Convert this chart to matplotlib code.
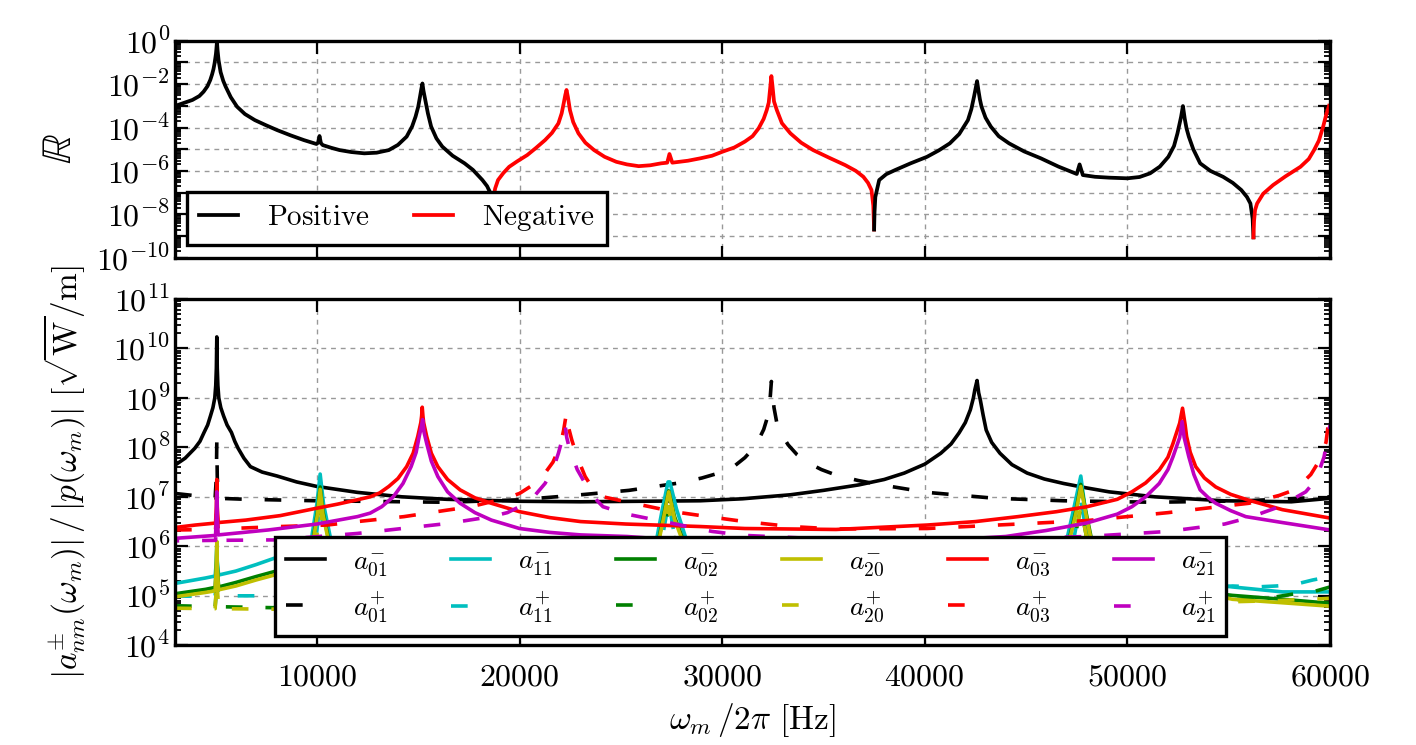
"""Reflection coefficient and modal amplitudes versus frequency."""

import matplotlib

matplotlib.use("Agg")
import matplotlib.pyplot as plt
from matplotlib.lines import Line2D
from matplotlib.ticker import FixedLocator, LogLocator, NullFormatter

# ---------------------------------------------------------------- top panel
# |R| in runs of constant sign (the runs meet at the zero crossings)
r1_f = [3000, 3400, 3860, 4200, 4410, 4600, 4740, 4830, 4900, 4950, 4990, 5020,
        5040, 5070, 5100, 5150, 5250, 5380, 5500, 5750, 6060, 6450, 6940, 7500,
        8040, 8700, 9360, 9980, 10060, 10130, 10200, 10290, 10700, 11120, 11700,
        12340, 12950, 13550, 14000, 14430, 14700, 14870, 15000, 15090, 15160,
        15210, 15260, 15350, 15480, 15640, 15900, 16190, 16700, 17290, 17700,
        18170, 18400, 18570, 18720]
r1 = [9.8e-4, 1.32e-3, 1.86e-3, 2.82e-3, 4.47e-3, 7.94e-3, 1.55e-2, 2.82e-2,
      5.01e-2, 8.91e-2, 0.158, 0.251, 0.398, 0.891, 0.355, 0.126, 3.55e-2,
      1.41e-2, 7.59e-3, 2.51e-3, 9.12e-4, 4.17e-4, 2.19e-4, 1.26e-4, 7.59e-5,
      4.37e-5, 2.63e-5, 1.74e-5, 2.0e-5, 4.07e-5, 1.91e-5, 1.55e-5, 1.17e-5,
      9.12e-6, 7.41e-6, 6.46e-6, 6.92e-6, 9.12e-6, 1.58e-5, 3.8e-5, 1.12e-4,
      3.16e-4, 8.91e-4, 2.63e-3, 6.31e-3, 1.07e-2, 5.01e-3, 1.86e-3, 4.47e-4,
      1.1e-4, 3.16e-5, 1.32e-5, 5.01e-6, 2.24e-6, 1.12e-6, 3.8e-7, 2.0e-7,
      9.33e-8, 5.01e-8]

r2_f = [18720, 18760, 18800, 18940, 19200, 19490, 19900, 20380, 20800, 21260,
        21600, 21920, 22080, 22180, 22260, 22320, 22390, 22490, 22650, 22910,
        23250, 23680, 24200, 24780, 25300, 25880, 26450, 26990, 27290, 27400,
        27540, 28310, 28920, 29500, 30000, 30600, 31120, 31500, 31800, 32050,
        32200, 32300, 32380, 32430, 32480, 32560, 32700, 32950, 33370, 33900,
        34490, 35300, 36070, 36600, 36970, 37200, 37370, 37460, 37500]
r2 = [5.01e-8, 1.0e-7, 1.58e-7, 3.8e-7, 7.94e-7, 1.55e-6, 2.82e-6, 5.37e-6,
      1.12e-5, 2.63e-5, 5.62e-5, 1.55e-4, 4.47e-4, 1.29e-3, 3.16e-3, 5.37e-3,
      2.51e-3, 6.31e-4, 1.78e-4, 5.37e-5, 2.0e-5, 9.12e-6, 4.47e-6, 2.63e-6,
      2.0e-6, 1.66e-6, 1.82e-6, 2.24e-6, 2.4e-6, 6.03e-6, 2.4e-6, 2.95e-6,
      3.8e-6, 5.01e-6, 7.59e-6, 1.2e-5, 2.24e-5, 3.98e-5, 9.12e-5, 2.51e-4,
      6.31e-4, 1.41e-3, 7.94e-3, 2.34e-2, 8.91e-3, 1.58e-3, 6.31e-4, 1.58e-4,
      5.37e-5, 2.0e-5, 9.12e-6, 3.98e-6, 1.86e-6, 1.0e-6, 5.37e-7, 2.82e-7,
      1.32e-7, 2.51e-8, 2.0e-9]

r3_f = [37500, 37520, 37560, 37750, 38100, 38540, 39300, 40110, 40700, 41235,
        41700, 42130, 42300, 42430, 42510, 42580, 42650, 42720, 42800, 43000,
        43260, 43650, 44160, 44900, 45730, 46600, 47500, 47640, 47800, 48400,
        49100, 50000, 50600, 51120, 51600, 52020, 52300, 52470, 52650, 52740,
        52830, 52920, 53030, 53250, 53590, 54100, 54720, 55200, 55620, 55900,
        56070, 56180, 56220]
r3 = [2.0e-9, 1.26e-8, 6.31e-8, 3.8e-7, 7.08e-7, 1.1e-6, 2.24e-6, 4.47e-6,
      8.91e-6, 1.86e-5, 5.01e-5, 2.19e-4, 7.08e-4, 2.63e-3, 6.31e-3, 1.38e-2,
      5.01e-3, 2.0e-3, 9.12e-4, 2.82e-4, 1.1e-4, 3.98e-5, 1.86e-5, 7.94e-6,
      3.8e-6, 1.58e-6, 7.24e-7, 2.0e-6, 6.46e-7, 5.37e-7, 4.9e-7, 4.57e-7,
      5.25e-7, 7.76e-7, 1.58e-6, 4.47e-6, 1.41e-5, 5.37e-5, 3.16e-4, 9.77e-4,
      2.51e-4, 8.91e-5, 3.8e-5, 1.0e-5, 2.24e-6, 1.0e-6, 5.37e-7, 2.82e-7,
      1.32e-7, 6.31e-8, 3.16e-8, 6.31e-9, 8.71e-10]

r4_f = [56220, 56250, 56300, 56400, 56700, 57190, 57800, 58540, 58950, 59210,
        59450, 59660, 59800, 59950]
r4 = [8.71e-10, 5.01e-9, 1.58e-8, 3.16e-8, 8.91e-8, 2.24e-7, 5.62e-7, 1.55e-6,
      3.55e-6, 9.12e-6, 2.51e-5, 1.1e-4, 3.55e-4, 1.0e-3]

r_runs = [("+", r1_f, r1), ("-", r2_f, r2), ("+", r3_f, r3), ("-", r4_f, r4)]

# ------------------------------------------------------------- bottom panel
a01m_f = [3000, 3500, 3975, 4230, 4434, 4610, 4747, 4870, 4963, 5010, 5040,
          5062, 5085, 5115, 5160, 5260, 5400, 5570, 5783, 5950, 6114, 6400,
          6720, 7300, 8040, 9000, 10000, 12000, 14200, 16410, 20000, 23020,
          28920, 31000, 33370, 35000, 36740, 38000, 38990, 40000, 40790, 41300,
          41690, 42000, 42250, 42400, 42470, 42580, 42660, 42740, 42880, 43030,
          43300, 43710, 44300, 45050, 45900, 46850, 48000, 49100, 51350, 54720,
          58090, 60000]
a01m = [4.37e7, 6.03e7, 9.55e7, 1.32e8, 2.0e8, 2.82e8, 4.27e8, 6.31e8, 1.0e9,
        1.78e9, 3.98e9, 1.7e10, 3.98e9, 1.78e9, 1.0e9, 6.31e8, 4.27e8, 2.82e8,
        2.0e8, 1.32e8, 9.55e7, 6.03e7, 4.07e7, 3.16e7, 2.63e7, 2.0e7, 1.62e7,
        1.23e7, 1.0e7, 8.91e6, 8.13e6, 7.94e6, 8.32e6, 9.12e6, 1.1e7, 1.35e7,
        1.74e7, 2.24e7, 3.02e7, 4.57e7, 7.59e7, 1.17e8, 1.95e8, 3.16e8, 5.75e8,
        1.0e9, 1.45e9, 2.24e9, 1.26e9, 9.12e8, 4.47e8, 2.24e8, 1.26e8, 7.59e7,
        4.47e7, 3.02e7, 2.29e7, 1.86e7, 1.51e7, 1.26e7, 1.0e7, 8.32e6, 7.94e6,
        9.33e6]

a01p_f = [3000, 4500, 4980, 5040, 5062, 5085, 5150, 6500, 10000, 16410, 20000,
          23020, 25400, 27900, 29000, 30000, 30600, 31120, 31500, 31800, 32050,
          32200, 32300, 32380, 32430, 32480, 32560, 32700, 32950, 33260, 33700,
          34270, 34900, 35620, 36700, 37860, 40110, 43480, 46850, 51350, 55840,
          60000]
a01p = [1.17e7, 1.0e7, 9.55e6, 2.51e7, 1.26e8, 2.51e7, 9.33e6, 8.91e6, 8.32e6,
        7.76e6, 8.71e6, 1.1e7, 1.35e7, 1.91e7, 2.4e7, 3.16e7, 4.17e7, 6.17e7,
        9.12e7, 1.41e8, 2.29e8, 3.63e8, 6.03e8, 1.12e9, 2.14e9, 1.26e9, 6.31e8,
        3.09e8, 1.78e8, 1.12e8, 7.08e7, 4.79e7, 3.55e7, 2.75e7, 2.14e7, 1.74e7,
        1.23e7, 9.33e6, 8.32e6, 7.76e6, 8.32e6, 1.0e7]

a03m_f = [3000, 4000, 5000, 5040, 5062, 5085, 5130, 6500, 8190, 10000, 11000,
          12000, 12630, 13100, 13550, 14000, 14430, 14750, 14980, 15130, 15170,
          15200, 15235, 15270, 15420, 15650, 15970, 16450, 17070, 17800, 18610,
          20000, 21500, 23020, 25250, 28920, 31120, 35620, 40110, 42500, 44600,
          46500, 48000, 49500, 50220, 50900, 51570, 52000, 52250, 52580, 52720,
          52850, 52920, 53100, 53370, 53800, 54360, 55100, 56000, 57650, 60000]
a03m = [2.4e6, 2.69e6, 2.95e6, 6.31e6, 2.24e7, 6.31e6, 3.02e6, 3.39e6, 4.17e6,
        5.89e6, 7.08e6, 8.71e6, 1.0e7, 1.2e7, 1.62e7, 2.34e7, 4.07e7, 7.59e7,
        1.66e8, 3.16e8, 4.27e8, 6.46e8, 4.27e8, 3.16e8, 1.66e8, 7.59e7, 4.07e7,
        2.24e7, 1.38e7, 9.55e6, 7.41e6, 5.01e6, 3.8e6, 3.16e6, 2.82e6, 2.51e6,
        2.29e6, 2.19e6, 2.69e6, 3.16e6, 3.98e6, 5.01e6, 6.31e6, 8.91e6, 1.26e7,
        1.91e7, 3.47e7, 6.31e7, 1.2e8, 3.09e8, 6.17e8, 2.82e8, 1.66e8, 7.94e7,
        4.07e7, 2.4e7, 1.58e7, 1.12e7, 8.51e6, 5.5e6, 3.72e6]

a21m_f = [3000, 5000, 5040, 5062, 5085, 5130, 7600, 10000, 12000, 12630, 13200,
          13770, 14250, 14650, 14900, 15050, 15160, 15220, 15290, 15420, 15650,
          15970, 16450, 17070, 17800, 18610, 20000, 21500, 23020, 25300, 28000,
          32000, 36000, 40000, 44000, 46000, 47980, 49500, 50220, 50900, 51570,
          52000, 52250, 52580, 52700, 52800, 53030, 53280, 53590, 54000, 54360,
          55100, 55840, 57650, 60000]
a21m = [1.45e6, 1.66e6, 3.98e6, 1.26e7, 3.98e6, 1.7e6, 2.14e6, 2.82e6, 3.98e6,
        4.68e6, 6.31e6, 1.0e7, 1.86e7, 4.07e7, 7.94e7, 1.66e8, 2.63e8, 3.63e8,
        2.0e8, 1.2e8, 5.25e7, 2.57e7, 1.26e7, 7.41e6, 4.79e6, 3.39e6, 2.29e6,
        1.91e6, 1.7e6, 1.58e6, 1.32e6, 1.2e6, 1.17e6, 1.26e6, 1.58e6, 2.09e6,
        2.95e6, 4.47e6, 6.31e6, 1.0e7, 1.86e7, 3.55e7, 6.46e7, 1.58e8, 3.31e8,
        1.58e8, 6.46e7, 2.82e7, 1.38e7, 9.55e6, 7.41e6, 5.25e6, 3.98e6, 3.02e6,
        2.14e6]

a03p_f = [3000, 5000, 5040, 5062, 5085, 5130, 8190, 10500, 12000, 14300, 16410,
          17600, 18610, 19400, 20000, 20700, 21260, 21650, 21920, 22100, 22180,
          22260, 22320, 22380, 22420, 22580, 22850, 23240, 23650, 24120, 25500,
          27600, 29300, 31120, 33370, 35620, 40110, 44600, 48000, 52000, 54500,
          56000, 57500, 58300, 59050, 59500, 59800, 60000]
a03p = [2.14e6, 2.19e6, 3.98e6, 7.94e6, 3.98e6, 2.24e6, 2.51e6, 2.69e6, 3.16e6,
        3.98e6, 5.37e6, 6.31e6, 7.94e6, 9.55e6, 1.17e7, 1.78e7, 3.02e7, 5.01e7,
        8.91e7, 1.58e8, 2.24e8, 3.55e8, 5.01e8, 3.55e8, 2.51e8, 1.41e8, 6.31e7,
        2.57e7, 1.41e7, 1.0e7, 7.59e6, 5.01e6, 3.98e6, 3.16e6, 2.51e6, 2.24e6,
        2.29e6, 2.82e6, 3.31e6, 4.79e6, 6.31e6, 7.41e6, 1.07e7, 1.41e7, 2.82e7,
        5.62e7, 1.26e8, 5.62e8]

a21p_f = [3000, 5000, 5040, 5062, 5085, 5130, 8000, 12000, 16410, 18610, 19400,
          20000, 20700, 21260, 21650, 21920, 22100, 22250, 22330, 22450, 22580,
          22850, 23240, 23650, 24120, 25300, 27700, 29500, 31120, 35000, 40000,
          44000, 48000, 52000, 54800, 56000, 57500, 58800, 59300, 59700, 60000]
a21p = [1.29e6, 1.32e6, 2.51e6, 5.01e6, 2.51e6, 1.32e6, 1.35e6, 1.82e6, 2.88e6,
        3.98e6, 4.79e6, 6.31e6, 1.0e7, 1.86e7, 3.55e7, 7.59e7, 1.41e8, 2.82e8,
        1.58e8, 1.0e8, 7.08e7, 3.55e7, 1.86e7, 1.0e7, 6.31e6, 4.47e6, 2.82e6,
        2.0e6, 1.66e6, 1.41e6, 1.32e6, 1.41e6, 1.58e6, 2.0e6, 2.82e6, 3.8e6,
        6.31e6, 1.26e7, 2.19e7, 6.31e7, 2.82e8]

a11m_f = [3000, 4500, 4980, 5040, 5062, 5085, 5150, 6000, 7000, 7900, 8800,
          9400, 9750, 10000, 10163, 10330, 10660, 11200, 12500, 16000, 20000,
          24000, 26200, 26790, 27050, 27330, 27420, 27750, 28190, 28800, 32000,
          38000, 44000, 46500, 47040, 47400, 47700, 47900, 48100, 48700, 51000,
          54360, 55190, 57650, 60000]
a11m = [1.78e5, 2.29e5, 2.51e5, 5.01e5, 1.0e6, 5.01e5, 2.63e5, 3.16e5, 4.27e5,
        5.75e5, 7.94e5, 1.05e6, 1.55e6, 7.08e6, 2.88e7, 7.08e6, 1.55e6, 8.91e5,
        5.62e5, 3.55e5, 2.82e5, 3.55e5, 7.08e5, 1.55e6, 5.62e6, 2.0e7, 2.0e7,
        5.62e6, 1.55e6, 7.08e5, 3.16e5, 2.51e5, 3.98e5, 8.91e5, 1.55e6, 7.08e6,
        2.63e7, 6.31e6, 1.55e6, 5.62e5, 2.51e5, 1.66e5, 1.51e5, 1.2e5, 1.2e5]

low_f = [3000, 4500, 4980, 5040, 5062, 5085, 5150, 6000, 7000, 7900, 8800,
         9400, 9800, 10030, 10163, 10300, 10600, 11200, 12500, 16000, 20000,
         24000, 26300, 26850, 27100, 27363, 27650, 28100, 28700, 32000, 38000,
         44000, 46600, 47100, 47450, 47700, 47950, 48250, 48800, 51000, 54360,
         55190, 57650, 60000]
a02m = [1.1e5, 1.35e5, 1.48e5, 3.98e5, 1.0e6, 3.98e5, 1.51e5, 1.86e5, 2.45e5,
        3.09e5, 4.47e5, 6.31e5, 1.26e6, 5.01e6, 1.58e7, 5.01e6, 1.26e6, 5.62e5,
        3.55e5, 2.24e5, 1.78e5, 2.24e5, 4.47e5, 1.26e6, 3.98e6, 1.32e7, 3.98e6,
        1.26e6, 4.47e5, 2.0e5, 1.58e5, 2.51e5, 5.62e5, 1.26e6, 5.01e6, 1.78e7,
        5.01e6, 1.26e6, 3.98e5, 1.58e5, 1.12e5, 1.02e5, 8.51e4, 7.08e4]
a20m = [9.55e4, 1.17e5, 1.26e5, 3.98e5, 1.26e6, 3.98e5, 1.32e5, 1.58e5, 2.09e5,
        2.63e5, 3.98e5, 5.62e5, 1.12e6, 4.47e6, 1.41e7, 4.47e6, 1.12e6, 5.01e5,
        3.16e5, 2.0e5, 1.58e5, 2.0e5, 3.98e5, 1.12e6, 3.55e6, 1.26e7, 3.55e6,
        1.12e6, 3.98e5, 1.78e5, 1.41e5, 2.24e5, 5.01e5, 1.12e6, 4.47e6, 1.62e7,
        4.47e6, 1.12e6, 3.55e5, 1.41e5, 1.0e5, 8.51e4, 7.24e4, 6.17e4]

plus_f = [3000, 4980, 5040, 5062, 5085, 5150, 7900, 9800, 10163, 10500, 12000,
          20000, 26800, 27363, 27900, 35000, 47100, 47700, 48300, 52000, 55190,
          56330, 57350, 58260, 59150, 60000]
a11p = [9.77e4, 1.0e5, 2.0e5, 3.98e5, 2.0e5, 1.0e5, 1.0e5, 3.98e5, 7.94e6,
        3.98e5, 1.26e5, 1.0e5, 3.98e5, 7.94e6, 3.98e5, 1.0e5, 3.98e5, 7.94e6,
        3.98e5, 1.26e5, 1.58e5, 1.51e5, 1.58e5, 1.7e5, 2.09e5, 2.45e5]
a02p = [6.31e4, 6.03e4, 1.26e5, 3.16e5, 1.26e5, 6.03e4, 5.75e4, 3.16e5, 6.31e6,
        3.16e5, 7.94e4, 6.31e4, 3.16e5, 6.31e6, 3.16e5, 6.31e4, 3.16e5, 6.31e6,
        3.16e5, 7.59e4, 8.32e4, 8.9e4, 9.55e4, 1.1e5, 1.2e5, 1.51e5]
a20p = [5.62e4, 5.5e4, 1.58e5, 6.31e5, 1.58e5, 5.5e4, 5.37e4, 3.16e5, 6.31e6,
        3.16e5, 7.08e4, 5.62e4, 3.16e5, 6.31e6, 3.16e5, 5.62e4, 3.16e5, 6.31e6,
        3.16e5, 7.08e4, 7.59e4, 7.8e4, 7.94e4, 8.32e4, 8.51e4, 8.91e4]

x_ticks = [10000, 20000, 30000, 40000, 50000, 60000]

plt.rcParams.update({
    "font.family": "serif",
    "mathtext.fontset": "cm",
    "axes.linewidth": 2.4,
    "xtick.direction": "in",
    "ytick.direction": "in",
    "xtick.top": True,
    "ytick.right": True,
    "xtick.major.size": 9,
    "ytick.major.size": 9,
    "ytick.minor.size": 4.5,
    "xtick.major.width": 1.6,
    "ytick.major.width": 1.6,
    "ytick.minor.width": 1.3,
    "xtick.labelsize": 23,
    "ytick.labelsize": 23,
    "lines.scale_dashes": False,
})

DASH = (0, (12, 16.5))
GRID = dict(color="0.6", linestyle=(0, (3.5, 3.5)), linewidth=1.0)

fig = plt.figure(figsize=(14.16, 7.45), dpi=100, facecolor="white")
ax_r = fig.add_axes([0.1236, 0.654, 0.8157, 0.2914])
ax_a = fig.add_axes([0.1236, 0.1338, 0.8157, 0.4651], sharex=ax_r)

seen = set()
for sign, freq, vals in r_runs:
    label = None
    if sign not in seen:
        label = r"$\mathrm{Positive}$" if sign == "+" else r"$\mathrm{Negative}$"
        seen.add(sign)
    ax_r.plot(freq, vals, color="k" if sign == "+" else "r", lw=2.7, label=label)

ax_r.set_yscale("log")
ax_r.set_ylim(1e-10, 1e0)
r_decades = [1e-10, 1e-9, 1e-8, 1e-7, 1e-6, 1e-5, 1e-4, 1e-3, 1e-2, 1e-1, 1e0]
ax_r.yaxis.set_major_locator(FixedLocator(r_decades))
ax_r.set_yticklabels([r"$10^{%d}$" % e if e % 2 == 0 else ""
                      for e in range(-10, 1)])
ax_r.yaxis.set_minor_locator(LogLocator(base=10, subs=range(2, 10), numticks=100))
ax_r.yaxis.set_minor_formatter(NullFormatter())
ax_r.grid(True, which="major", **GRID)
ax_r.tick_params(axis="x", labelbottom=False)
ax_r.set_ylabel(r"$\mathbb{R}$", fontsize=30)
ax_r.yaxis.set_label_coords(-0.082, 0.5)
leg_r = ax_r.legend(loc="lower left", bbox_to_anchor=(0.0104, 0.0585),
                    borderaxespad=0, ncol=2, fontsize=21, handlelength=1.35,
                    handletextpad=1.0, columnspacing=1.5, fancybox=False,
                    framealpha=1, edgecolor="k")
leg_r.get_frame().set_linewidth(2.4)

# (label, freq, amplitude, colour, dashed?, dash offset in points)
curves = [
    ("$a_{01}^{-}$", a01m_f, a01m, "k", False, 0),
    ("$a_{01}^{+}$", a01p_f, a01p, "k", True, 0),
    ("$a_{11}^{-}$", a11m_f, a11m, "#00bfbf", False, 0),
    ("$a_{11}^{+}$", plus_f, a11p, "#00bfbf", True, 0),
    ("$a_{02}^{-}$", low_f, a02m, "#008000", False, 0),
    ("$a_{02}^{+}$", plus_f, a02p, "#008000", True, 0),
    ("$a_{20}^{-}$", low_f, a20m, "#bfbf00", False, 0),
    ("$a_{20}^{+}$", plus_f, a20p, "#bfbf00", True, 0),
    ("$a_{03}^{-}$", a03m_f, a03m, "#ff0000", False, 0),
    ("$a_{03}^{+}$", a03p_f, a03p, "#ff0000", True, 0),
    ("$a_{21}^{-}$", a21m_f, a21m, "#bf00bf", False, 0),
    ("$a_{21}^{+}$", a21p_f, a21p, "#bf00bf", True, 9),
]
handles = []
for label, freq, amp, colour, dashed, offset in curves:
    style = (offset, DASH[1]) if dashed else "-"
    ax_a.plot(freq, amp, color=colour, linestyle=style, lw=2.6)
    handles.append(Line2D([], [], color=colour, lw=2.6,
                          linestyle=DASH if dashed else "-", label=label))

ax_a.set_yscale("log")
ax_a.set_ylim(1e4, 1e11)
ax_a.yaxis.set_major_locator(FixedLocator([1e4, 1e5, 1e6, 1e7, 1e8, 1e9, 1e10, 1e11]))
ax_a.set_yticklabels([r"$10^{%d}$" % e for e in range(4, 12)])
ax_a.yaxis.set_minor_locator(LogLocator(base=10, subs=range(2, 10), numticks=100))
ax_a.yaxis.set_minor_formatter(NullFormatter())
ax_a.set_xlim(3000, 60000)
ax_a.set_xticks(x_ticks)
ax_a.set_xticklabels([r"$%d$" % t for t in x_ticks])
ax_a.tick_params(axis="x", pad=12)
ax_a.grid(True, which="major", **GRID)
ax_a.set_xlabel(r"$\omega_m\,/2\pi\ [\mathrm{Hz}]$", fontsize=24, labelpad=6)
ax_a.set_ylabel(r"$|a_{nm}^{\pm}(\omega_m)|\,/\,|p(\omega_m)|\ [\sqrt{\mathrm{W}}/\mathrm{m}]$",
                fontsize=24)
ax_a.yaxis.set_label_coords(-0.075, 0.5)
leg_a = ax_a.legend(handles=handles, loc="upper left",
                    bbox_to_anchor=(0.0866, 0.3126), borderaxespad=0, ncol=6,
                    fontsize=20, handlelength=1.4, handletextpad=1.0,
                    columnspacing=2.3, labelspacing=0.4, fancybox=False,
                    framealpha=1, edgecolor="k")
leg_a.get_frame().set_linewidth(2.4)

fig.savefig("out.png", dpi=100, facecolor="white")
